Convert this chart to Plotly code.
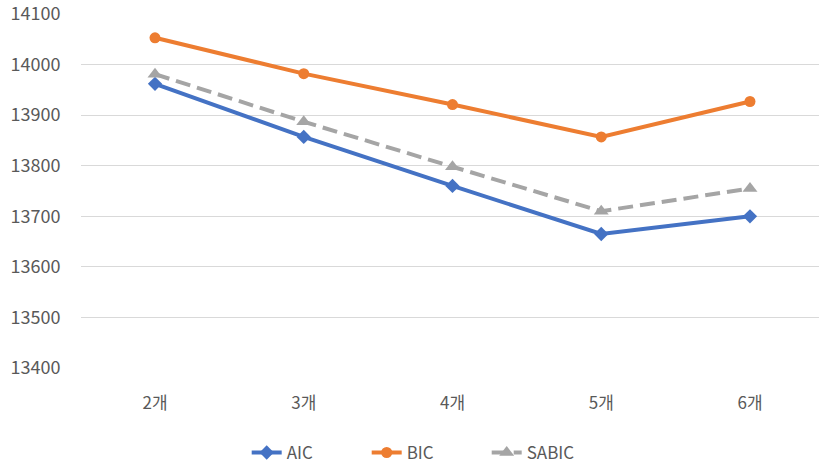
import plotly.graph_objects as go

categories = ["2개", "3개", "4개", "5개", "6개"]
aic = [13962, 13857, 13760, 13665, 13700]
bic = [14053, 13982, 13921, 13857, 13927]
sabic = [13981, 13887, 13798, 13710, 13755]
y_ticks = [13400, 13500, 13600, 13700, 13800, 13900, 14000, 14100]

FONT = "Noto Sans CJK KR, Malgun Gothic, sans-serif"
TEXT = "#595959"

fig = go.Figure()
fig.add_trace(go.Scatter(
    x=categories, y=aic, name="AIC", mode="lines+markers",
    line=dict(color="#4472C4", width=4),
    marker=dict(symbol="diamond", size=11, color="#4472C4"),
))
fig.add_trace(go.Scatter(
    x=categories, y=bic, name="BIC", mode="lines+markers",
    line=dict(color="#ED7D31", width=4),
    marker=dict(symbol="circle", size=11, color="#ED7D31"),
))
fig.add_trace(go.Scatter(
    x=categories, y=sabic, name="SABIC", mode="lines+markers",
    line=dict(color="#A5A5A5", width=4, dash="15px,7px"),
    marker=dict(symbol="triangle-up", size=13, color="#A5A5A5"),
))

fig.update_layout(
    width=819, height=466,
    margin=dict(l=81, r=0, t=14, b=98),
    paper_bgcolor="white", plot_bgcolor="white",
    font=dict(family=FONT, size=17, color=TEXT),
    showlegend=True,
    legend=dict(
        orientation="h", xref="container", yref="container",
        x=0.521, xanchor="center", y=0.028, yanchor="middle",
        font=dict(family=FONT, size=17, color=TEXT),
        entrywidth=75, tracegroupgap=0,
    ),
    xaxis=dict(
        type="category", range=[-0.4975, 4.464],
        showgrid=False, zeroline=False, showline=False,
        ticks="outside", ticklen=20, tickcolor="rgba(0,0,0,0)",
        tickfont=dict(family=FONT, size=17, color=TEXT),
    ),
    yaxis=dict(
        range=[13400, 14100], tickvals=y_ticks,
        ticktext=[str(v) for v in y_ticks],
        showgrid=True, gridcolor="#D9D9D9", gridwidth=1,
        zeroline=False, showline=False,
        ticks="outside", ticklen=16, tickcolor="rgba(0,0,0,0)",
        ticklabeloverflow="allow",
        tickfont=dict(family=FONT, size=18, color=TEXT),
    ),
)

fig.write_html("out.html")
